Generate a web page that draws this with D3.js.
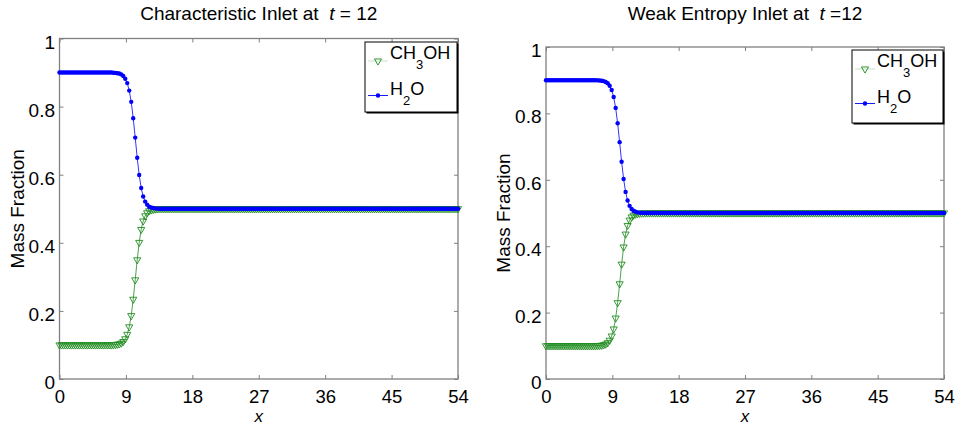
<!DOCTYPE html>
<html>
<head>
<meta charset="utf-8">
<script src="https://cdn.jsdelivr.net/npm/d3@7/dist/d3.min.js"></script>
<style>
  body { margin: 0; background: #fff; }
  svg { display: block; font-family: "Liberation Sans", Arial, Helvetica, sans-serif; }
  .tick line { stroke: #808080; }
  .tick text { fill: #000; font-size: 19px; }
</style>
</head>
<body>
<svg id="chart" width="957" height="426"></svg>
<script>
// Uniform mesh: 201 nodes from x = 0 to x = 54
const xStep = 0.27;
const nodeCount = 201;
const xTicks = [0, 9, 18, 27, 36, 45, 54];
const yTicks = [0, 0.2, 0.4, 0.6, 0.8, 1];

// Characteristic inlet, t = 12
const h2oCharacteristic = [
  ...Array(26).fill(0.9),
  0.900, 0.8995, 0.899, 0.898, 0.897, 0.8946, 0.890, 0.882, 0.869, 0.847, 0.814, 0.766,
  0.709, 0.650, 0.599, 0.561, 0.536, 0.521, 0.512, 0.506, 0.5035, 0.502, 0.501, 0.5005,
  ...Array(151).fill(0.5)
];
const ch3ohCharacteristic = [
  ...Array(26).fill(0.1),
  0.100, 0.1005, 0.101, 0.102, 0.103, 0.1054, 0.110, 0.118, 0.131, 0.153, 0.186, 0.234,
  0.291, 0.350, 0.401, 0.439, 0.464, 0.479, 0.488, 0.494, 0.4965, 0.498, 0.499, 0.4995,
  ...Array(151).fill(0.5)
];

// Weak entropy inlet, t = 12
const h2oWeakEntropy = [
  ...Array(26).fill(0.9),
  0.8995, 0.8991, 0.8984, 0.8971, 0.8948, 0.8907, 0.8833, 0.8706, 0.8494, 0.8166, 0.7703, 0.7134,
  0.6542, 0.6025, 0.5636, 0.5376, 0.5216, 0.5121, 0.5067, 0.5037, 0.5020, 0.5011, 0.5006, 0.5003,
  ...Array(151).fill(0.5)
];
const ch3ohWeakEntropy = [
  ...Array(26).fill(0.1),
  0.1005, 0.1009, 0.1016, 0.1029, 0.1052, 0.1093, 0.1167, 0.1294, 0.1506, 0.1834, 0.2297, 0.2866,
  0.3458, 0.3975, 0.4364, 0.4624, 0.4784, 0.4879, 0.4933, 0.4963, 0.4980, 0.4989, 0.4994, 0.4997,
  ...Array(151).fill(0.5)
];

const xNodes = d3.range(nodeCount).map(i => i * xStep);

const GREEN = '#1f8c1f';
const BLUE = '#0000ff';

class MassFractionPlot {

    constructor(_config, _data) {
        this.config = {
            parentElement: _config.parentElement,
            margin: _config.margin,
            width: _config.width,
            height: _config.height,
            titleHead: _config.titleHead,
            titleTail: _config.titleTail,
            legend: _config.legend
        };
        this.data = _data;
        this.initVis();
    }

    initVis() {
        let vis = this;
        const cfg = vis.config;

        vis.xScale = d3.scaleLinear().domain([0, 54]).range([0, cfg.width]);
        vis.yScale = d3.scaleLinear().domain([0, 1]).range([cfg.height, 0]);

        vis.chart = d3.select(cfg.parentElement).append('g')
            .attr('transform', `translate(${cfg.margin.left},${cfg.margin.top})`);

        // Ticks point inward on all four sides, labels only bottom and left
        vis.chart.append('g')
            .attr('transform', `translate(0,${cfg.height})`)
            .call(d3.axisBottom(vis.xScale).tickValues(xTicks).tickSizeInner(-4).tickSizeOuter(0).tickPadding(10.5))
            .call(g => g.select('.domain').remove())
            .call(g => g.selectAll('text').style('font-size', '18.5px'));

        vis.chart.append('g')
            .call(d3.axisTop(vis.xScale).tickValues(xTicks).tickSizeInner(-4).tickSizeOuter(0).tickFormat(''))
            .call(g => g.select('.domain').remove());

        vis.chart.append('g')
            .call(d3.axisLeft(vis.yScale).tickValues(yTicks).tickSizeInner(-4).tickSizeOuter(0)
                .tickPadding(4.5).tickFormat(d3.format('~g')))
            .call(g => g.select('.domain').remove())
            .call(g => g.selectAll('text').attr('dy', '0.5em'));

        vis.chart.append('g')
            .attr('transform', `translate(${cfg.width},0)`)
            .call(d3.axisRight(vis.yScale).tickValues(yTicks).tickSizeInner(-4).tickSizeOuter(0).tickFormat(''))
            .call(g => g.select('.domain').remove());

        vis.chart.append('rect')
            .attr('width', cfg.width)
            .attr('height', cfg.height)
            .attr('fill', 'none')
            .attr('stroke', '#808080')
            .attr('stroke-width', 1.3);

        // Title with italic t
        const title = vis.chart.append('text')
            .attr('x', cfg.width / 2)
            .attr('y', 20 - cfg.margin.top)
            .attr('text-anchor', 'middle')
            .attr('font-size', 19);
        title.append('tspan').text(cfg.titleHead);
        title.append('tspan').attr('font-style', 'italic').text('t');
        title.append('tspan').text(cfg.titleTail);

        vis.chart.append('text')
            .attr('transform', `translate(-36,${cfg.height / 2}) rotate(-90)`)
            .attr('text-anchor', 'middle')
            .attr('font-size', 19)
            .text('Mass Fraction');

        // x label sits tight under the tick labels, as in the original
        vis.chart.append('text')
            .attr('x', cfg.width / 2)
            .attr('y', cfg.height + 43)
            .attr('text-anchor', 'middle')
            .attr('font-size', 17)
            .attr('font-style', 'italic')
            .text('x');

        vis.renderVis();
        vis.renderLegend();
    }

    renderVis() {
        let vis = this;

        const line = d3.line()
            .x((d, i) => vis.xScale(xNodes[i]))
            .y(d => vis.yScale(d));

        // CH3OH first so H2O sits on top where they meet at 0.5
        vis.chart.append('path')
            .datum(vis.data.ch3oh)
            .attr('d', line)
            .attr('fill', 'none')
            .attr('stroke', GREEN)
            .attr('stroke-width', 0.8);

        const tri = d3.symbol().type(d3.symbolTriangle).size(22);
        vis.chart.append('g').selectAll('path')
                .data(vis.data.ch3oh)
            .join('path')
                .attr('d', tri)
                .attr('transform', (d, i) => `translate(${vis.xScale(xNodes[i])},${vis.yScale(d)}) rotate(180)`)
                .attr('fill', 'none')
                .attr('stroke', GREEN)
                .attr('stroke-width', 0.9);

        vis.chart.append('path')
            .datum(vis.data.h2o)
            .attr('d', line)
            .attr('fill', 'none')
            .attr('stroke', BLUE)
            .attr('stroke-width', 0.8);

        vis.chart.append('g').selectAll('circle')
                .data(vis.data.h2o)
            .join('circle')
                .attr('cx', (d, i) => vis.xScale(xNodes[i]))
                .attr('cy', d => vis.yScale(d))
                .attr('r', 2.2)
                .attr('fill', BLUE);
    }

    renderLegend() {
        let vis = this;
        const lg = vis.config.legend;

        const g = vis.chart.append('g')
            .attr('transform', `translate(${vis.config.width - 1 - lg.w},${lg.dy})`);

        // slight shadow on right and bottom edges
        g.append('rect')
            .attr('x', 1.5).attr('y', 1.5)
            .attr('width', lg.w).attr('height', lg.h)
            .attr('fill', '#000');
        g.append('rect')
            .attr('width', lg.w).attr('height', lg.h)
            .attr('fill', '#fff')
            .attr('stroke', '#000')
            .attr('stroke-width', 1);

        // CH3OH row
        g.append('line')
            .attr('x1', 3).attr('x2', 23).attr('y1', 19).attr('y2', 19)
            .attr('stroke', GREEN).attr('stroke-opacity', 0.25);
        g.append('path')
            .attr('d', d3.symbol().type(d3.symbolTriangle).size(22))
            .attr('transform', 'translate(13,19) rotate(180)')
            .attr('fill', 'none')
            .attr('stroke', GREEN)
            .attr('stroke-width', 0.9);
        const t1 = g.append('text').attr('x', 25).attr('y', 17).attr('font-size', 18);
        t1.append('tspan').text('CH');
        t1.append('tspan').attr('font-size', 13).attr('dy', 10).text('3');
        t1.append('tspan').attr('dy', -10).text('OH');

        // H2O row
        g.append('line')
            .attr('x1', 3).attr('x2', 23).attr('y1', 53.5).attr('y2', 53.5)
            .attr('stroke', BLUE).attr('stroke-width', 0.9);
        g.append('circle')
            .attr('cx', 13).attr('cy', 53.5).attr('r', 2.2)
            .attr('fill', BLUE);
        const t2 = g.append('text').attr('x', 25).attr('y', 53).attr('font-size', 18);
        t2.append('tspan').text('H');
        t2.append('tspan').attr('font-size', 13).attr('dy', 10).text('2');
        t2.append('tspan').attr('dy', -10).text('O');
    }
}

new MassFractionPlot({
    parentElement: '#chart',
    margin: {left: 59.5, top: 38.5},
    width: 398.5,
    height: 340.5,
    titleHead: 'Characteristic Inlet at\u00a0 ',
    titleTail: ' = 12',
    legend: {w: 92, h: 70, dy: 3.5}
}, {h2o: h2oCharacteristic, ch3oh: ch3ohCharacteristic});

new MassFractionPlot({
    parentElement: '#chart',
    margin: {left: 546, top: 47},
    width: 398,
    height: 332,
    titleHead: 'Weak Entropy Inlet at\u00a0 ',
    titleTail: ' =12',
    legend: {w: 91, h: 73, dy: 3}
}, {h2o: h2oWeakEntropy, ch3oh: ch3ohWeakEntropy});
</script>
</body>
</html>
